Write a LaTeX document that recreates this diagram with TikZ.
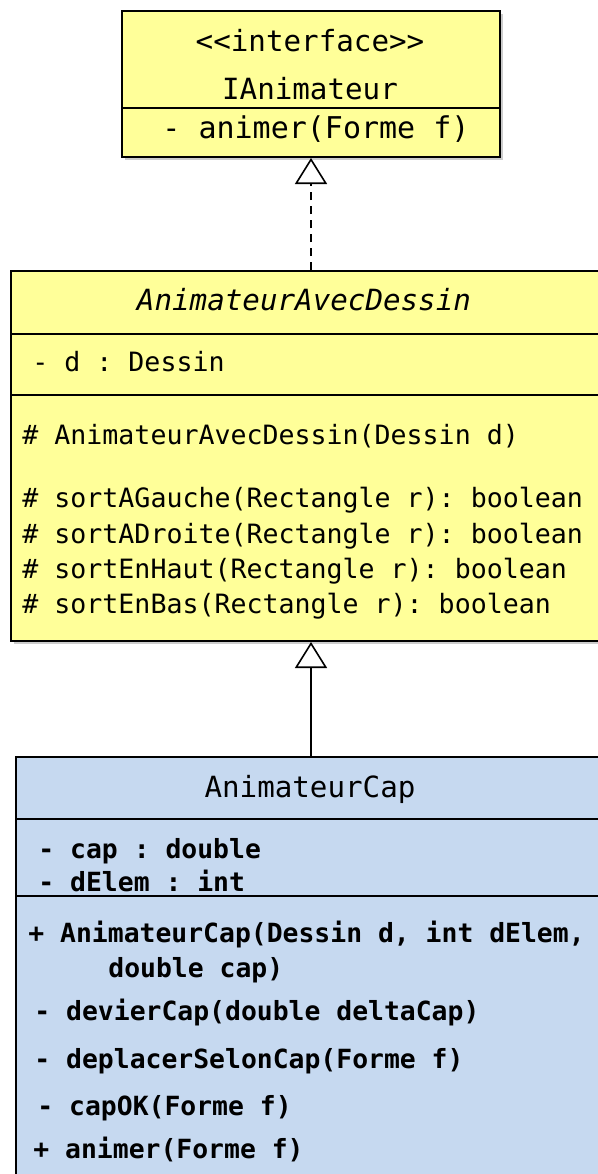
\documentclass[tikz,border=0pt]{standalone}
\usepackage{fontspec}
\setmonofont{DejaVu Sans Mono}
\usetikzlibrary{arrows.meta,positioning,shadows}

\definecolor{umlyellow}{RGB}{255,255,153}
\definecolor{umlblue}{RGB}{198,217,240}

\begin{document}
\begin{tikzpicture}[
  x=0.5pt, y=-0.5pt,
  font=\ttfamily,
  classbox/.style={draw, line width=1pt, anchor=north west, inner sep=0pt,
                   drop shadow={shadow xshift=1.5pt, shadow yshift=-1.5pt, opacity=0.4}},
  title/.style={anchor=base, inner sep=0pt, font=\ttfamily\fontsize{14.6}{17}\selectfont},
  member/.style={anchor=base west, inner sep=0pt, font=\ttfamily\fontsize{13.3}{16}\selectfont},
  bmember/.style={member, font=\ttfamily\bfseries\fontsize{13.2}{16}\selectfont},
  sep/.style={line width=1pt},
  realise/.style={-{Triangle[open, length=13pt, width=16pt, line width=0.8pt]},
                  line width=0.8pt, dash pattern=on 4pt off 3pt},
  inherit/.style={-{Triangle[open, length=13pt, width=16pt, line width=0.8pt]}, line width=0.8pt}
]
\useasboundingbox (0,0) rectangle (598,1174);

% interface
\node[classbox, fill=umlyellow, minimum width=189pt, minimum height=73pt] (iface) at (121,10) {};
\draw[sep] (iface.west |- 0,108) -- (iface.east |- 0,108);
\node[title] (ifStereo) at (310,51) {<{}<interface>{}>};
\node[title] (ifName) at (310,99) {IAnimateur};
\node[member, font=\ttfamily\fontsize{15}{17}\selectfont] (ifOp) at (162,138) {- animer(Forme f)};

% abstract class
\node[classbox, fill=umlyellow, minimum width=295pt, minimum height=185pt] (avec) at (10,270) {};
\draw[sep] (avec.west |- 0,334) -- (avec.east |- 0,334);
\draw[sep] (avec.west |- 0,395) -- (avec.east |- 0,395);
\node[title, font=\ttfamily\itshape\fontsize{14.6}{17}\selectfont] (avName) at (304,310) {AnimateurAvecDessin};
\node[member] (avAttr) at (32,371) {- d : Dessin};
\node[member] (avCtor) at (22,444) {\# AnimateurAvecDessin(Dessin d)};
\node[member] (avGauche) at (22,507) {\# sortAGauche(Rectangle r): boolean};
\node[member] (avDroite) at (22,543) {\# sortADroite(Rectangle r): boolean};
\node[member] (avHaut) at (22,578) {\# sortEnHaut(Rectangle r): boolean};
\node[member] (avBas) at (22,613) {\# sortEnBas(Rectangle r): boolean};

% concrete class
\node[classbox, fill=umlblue, minimum width=295pt, minimum height=215pt] (cap) at (15,756) {};
\draw[sep] (cap.west |- 0,819) -- (cap.east |- 0,819);
\draw[sep] (cap.west |- 0,896) -- (cap.east |- 0,896);
\node[title] (capName) at (310,797) {AnimateurCap};
\node[bmember] (capCap) at (38,858) {- cap : double};
\node[bmember] (capElem) at (38,891) {- dElem : int};
\node[bmember] (capCtor) at (28,942) {+ AnimateurCap(Dessin d, int dElem,};
\node[bmember] (capCtorB) at (108,977) {double cap)};
\node[bmember] (capDevier) at (34,1020) {- devierCap(double deltaCap)};
\node[bmember] (capDeplacer) at (34,1068) {- deplacerSelonCap(Forme f)};
\node[bmember] (capOK) at (37,1115) {- capOK(Forme f)};
\node[bmember] (capAnimer) at (33,1158) {+ animer(Forme f)};

\draw[realise] (avec.north -| iface.south) -- (iface.south);
\draw[inherit] (cap.north) -- (avec.south -| cap.north);
\end{tikzpicture}
\end{document}
